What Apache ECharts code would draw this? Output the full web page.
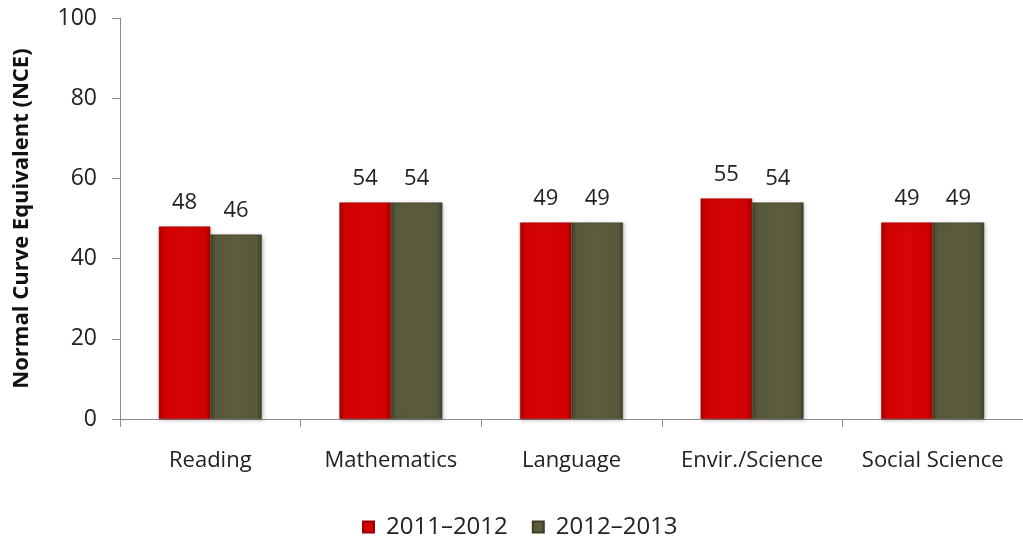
<!DOCTYPE html>
<html>
<head>
<meta charset="utf-8">
<script src="https://cdn.jsdelivr.net/npm/echarts@6/dist/echarts.min.js"></script>
<style>
  html, body { margin: 0; padding: 0; background: #ffffff; }
  #chart { width: 1023px; height: 542px; }
</style>
</head>
<body>
<div id="chart"></div>
<script>
// Subjects and NCE scores per school year
const categories = ['Reading', 'Mathematics', 'Language', 'Envir./Science', 'Social Science'];
const seriesNames = ['2011\u20132012', '2012\u20132013'];
const scores2011 = [48, 54, 49, 55, 49];
const scores2012 = [46, 54, 49, 54, 49];
const yTicks = [0, 20, 40, 60, 80, 100];

const FONT = '"Open Sans", "Liberation Sans", sans-serif';

// Horizontal gradient giving the bars a soft bevelled edge
function bevel(dark, mid, light) {
  return new echarts.graphic.LinearGradient(0, 0, 1, 0, [
    { offset: 0, color: dark },
    { offset: 0.1, color: mid },
    { offset: 0.5, color: light },
    { offset: 0.9, color: mid },
    { offset: 1, color: dark }
  ]);
}

const redFill = bevel('#a80000', '#d00000', '#d60606');
const oliveFill = bevel('#42422a', '#58583a', '#5d5d3e');

const chart = echarts.init(document.getElementById('chart'), null, { renderer: 'canvas' });

const labelStyle = {
  show: true,
  position: 'top',
  distance: 13,
  color: '#222222',
  fontFamily: FONT,
  fontSize: 22
};

chart.setOption({
  animation: false,
  backgroundColor: '#ffffff',
  grid: { left: 120, top: 18, width: 910, height: 401, containLabel: false },
  legend: {
    left: 357,
    top: 510,
    itemWidth: 11,
    itemHeight: 11,
    itemGap: 24,
    icon: 'rect',
    textStyle: { fontFamily: FONT, fontSize: 24, color: '#222222', padding: [0, 0, 0, 7] },
    data: seriesNames
  },
  xAxis: {
    type: 'category',
    data: categories,
    axisLine: { show: true, lineStyle: { color: '#8c8c8c', width: 1 } },
    axisTick: { show: true, interval: 0, length: 8, lineStyle: { color: '#8c8c8c' } },
    axisLabel: { interval: 0, margin: 31, color: '#222222', fontFamily: FONT, fontSize: 22 }
  },
  yAxis: {
    type: 'value',
    min: yTicks[0],
    max: yTicks[yTicks.length - 1],
    interval: yTicks[1] - yTicks[0],
    name: 'Normal Curve Equivalent (NCE)',
    nameLocation: 'middle',
    nameGap: 87,
    nameRotate: 90,
    nameTextStyle: { fontFamily: FONT, fontSize: 22, fontWeight: 'bold', color: '#111111' },
    axisLine: { show: true, lineStyle: { color: '#8c8c8c', width: 1 } },
    axisTick: { show: true, length: 8, lineStyle: { color: '#8c8c8c' } },
    splitLine: { show: false },
    axisLabel: { margin: 23, color: '#222222', fontFamily: FONT, fontSize: 23 }
  },
  series: [
    {
      name: seriesNames[0],
      type: 'bar',
      data: scores2011,
      barGap: '0%',
      barCategoryGap: '43%',
      itemStyle: {
        color: redFill,
        borderColor: '#9a0000',
        borderWidth: 0.5,
        shadowColor: 'rgba(0,0,0,0.25)',
        shadowBlur: 4,
        shadowOffsetX: 1,
        shadowOffsetY: 1
      },
      label: labelStyle
    },
    {
      name: seriesNames[1],
      type: 'bar',
      data: scores2012,
      itemStyle: {
        color: oliveFill,
        borderColor: '#3e3e28',
        borderWidth: 0.5,
        shadowColor: 'rgba(0,0,0,0.25)',
        shadowBlur: 4,
        shadowOffsetX: 1,
        shadowOffsetY: 1
      },
      label: labelStyle
    }
  ]
});
</script>
</body>
</html>
